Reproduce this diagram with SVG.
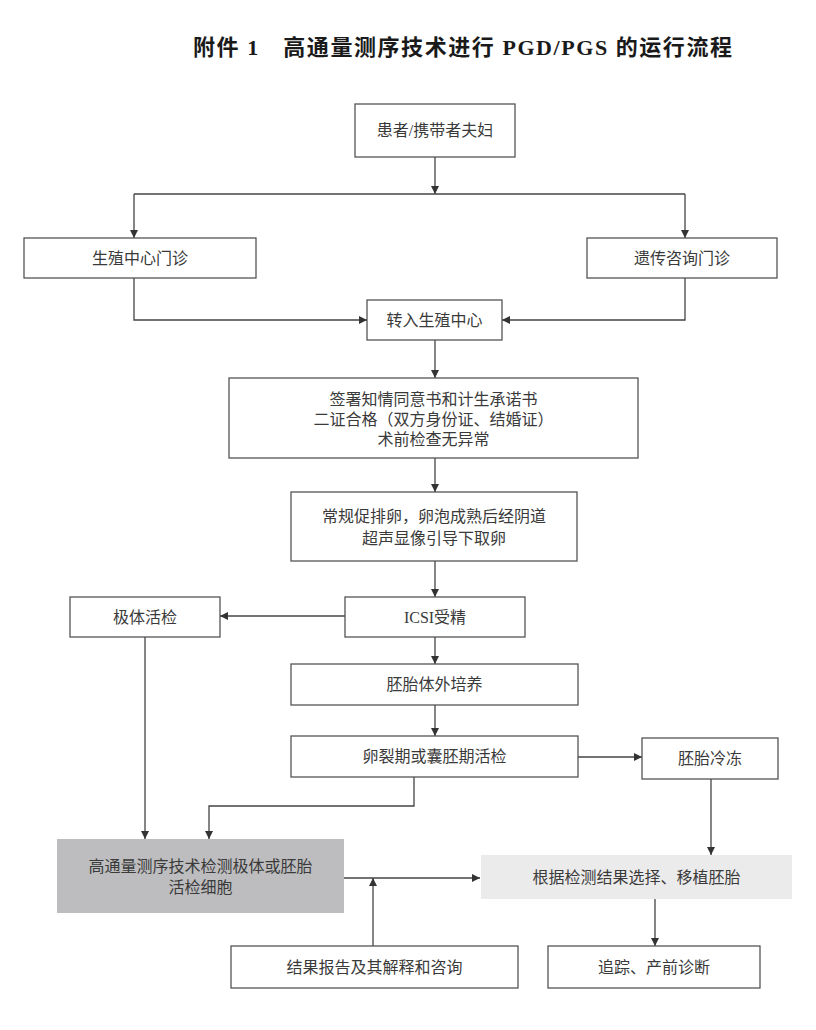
<svg xmlns="http://www.w3.org/2000/svg" width="816" height="1030" viewBox="0 0 816 1030">
<defs>
<marker id="arr" viewBox="0 0 10 10" refX="10" refY="5" markerWidth="8" markerHeight="8" markerUnits="userSpaceOnUse" orient="auto">
<path d="M0,0 L10,5 L0,10 Z" fill="#333"/>
</marker>
</defs>
<style>
.box{fill:#fff;stroke:#555;stroke-width:1.3}
.t{font-family:"Liberation Serif","Noto Sans CJK SC",serif;font-size:16px;fill:#3a3a3a;text-anchor:middle}
.title{font-family:"Liberation Serif","Noto Sans CJK SC",serif;font-size:22px;font-weight:bold;fill:#1a1a1a}
.c{fill:none;stroke:#444;stroke-width:1.3;marker-end:url(#arr)}
.l{fill:none;stroke:#444;stroke-width:1.3}
</style>
<rect width="816" height="1030" fill="#fff"/>
<text class="title" x="193" y="55" textLength="539" lengthAdjust="spacing">附件 1　高通量测序技术进行 PGD/PGS 的运行流程</text>

<g id="connectors">
<path class="c" d="M435,157 V194"/>
<path class="l" d="M134,194 H685"/>
<path class="c" d="M134,194 V238"/>
<path class="c" d="M685,194 V238"/>
<path class="c" d="M134,278 V320 H367"/>
<path class="c" d="M685,278 V320 H502"/>
<path class="c" d="M435,340 V378"/>
<path class="c" d="M435,458 V492"/>
<path class="c" d="M435,561 V597"/>
<path class="c" d="M345,616 H220"/>
<path class="c" d="M435,637 V664"/>
<path class="c" d="M435,705 V736"/>
<path class="c" d="M578,757 H642"/>
<path class="c" d="M145,637 V839"/>
<path class="c" d="M414,777 V806 H209 V839"/>
<path class="c" d="M344,878 H480"/>
<path class="c" d="M373,946 V878"/>
<path class="c" d="M711,779 V855"/>
<path class="c" d="M655,899 V946"/>
</g>

<g id="n1"><rect class="box" x="355" y="104" width="160" height="53"/><text class="t" x="435" y="136">患者/携带者夫妇</text></g>
<g id="n2"><rect class="box" x="24" y="238" width="232" height="40"/><text class="t" x="140" y="264">生殖中心门诊</text></g>
<g id="n3"><rect class="box" x="587" y="238" width="190" height="40"/><text class="t" x="682" y="264">遗传咨询门诊</text></g>
<g id="n4"><rect class="box" x="367" y="300" width="135" height="40"/><text class="t" x="434.5" y="326">转入生殖中心</text></g>
<g id="n5"><rect class="box" x="229" y="378" width="409" height="80"/>
<text class="t" x="433.5" y="405">签署知情同意书和计生承诺书</text>
<text class="t" x="433.5" y="425">二证合格（双方身份证、结婚证）</text>
<text class="t" x="433.5" y="445">术前检查无异常</text></g>
<g id="n6"><rect class="box" x="291" y="492" width="286" height="69"/>
<text class="t" x="434" y="522">常规促排卵，卵泡成熟后经阴道</text>
<text class="t" x="434" y="544">超声显像引导下取卵</text></g>
<g id="n7"><rect class="box" x="345" y="597" width="180" height="40"/><text class="t" x="435" y="623">ICSI受精</text></g>
<g id="n8"><rect class="box" x="70" y="597" width="150" height="40"/><text class="t" x="145" y="623">极体活检</text></g>
<g id="n9"><rect class="box" x="291" y="664" width="287" height="41"/><text class="t" x="434.5" y="690">胚胎体外培养</text></g>
<g id="n10"><rect class="box" x="291" y="736" width="287" height="41"/><text class="t" x="434.5" y="762">卵裂期或囊胚期活检</text></g>
<g id="n11"><rect class="box" x="642" y="738" width="136" height="41"/><text class="t" x="710" y="764">胚胎冷冻</text></g>
<g id="n12"><rect x="57" y="839" width="287" height="74" fill="#bdbdbf"/>
<text class="t" x="200.5" y="872">高通量测序技术检测极体或胚胎</text>
<text class="t" x="200.5" y="893">活检细胞</text></g>
<g id="n13"><rect x="481" y="855" width="311" height="44" fill="#ebebeb"/><text class="t" x="636.5" y="883">根据检测结果选择、移植胚胎</text></g>
<g id="n14"><rect class="box" x="231" y="946" width="287" height="42"/><text class="t" x="374.5" y="973">结果报告及其解释和咨询</text></g>
<g id="n15"><rect class="box" x="548" y="946" width="212" height="42"/><text class="t" x="654" y="973">追踪、产前诊断</text></g>
</svg>
